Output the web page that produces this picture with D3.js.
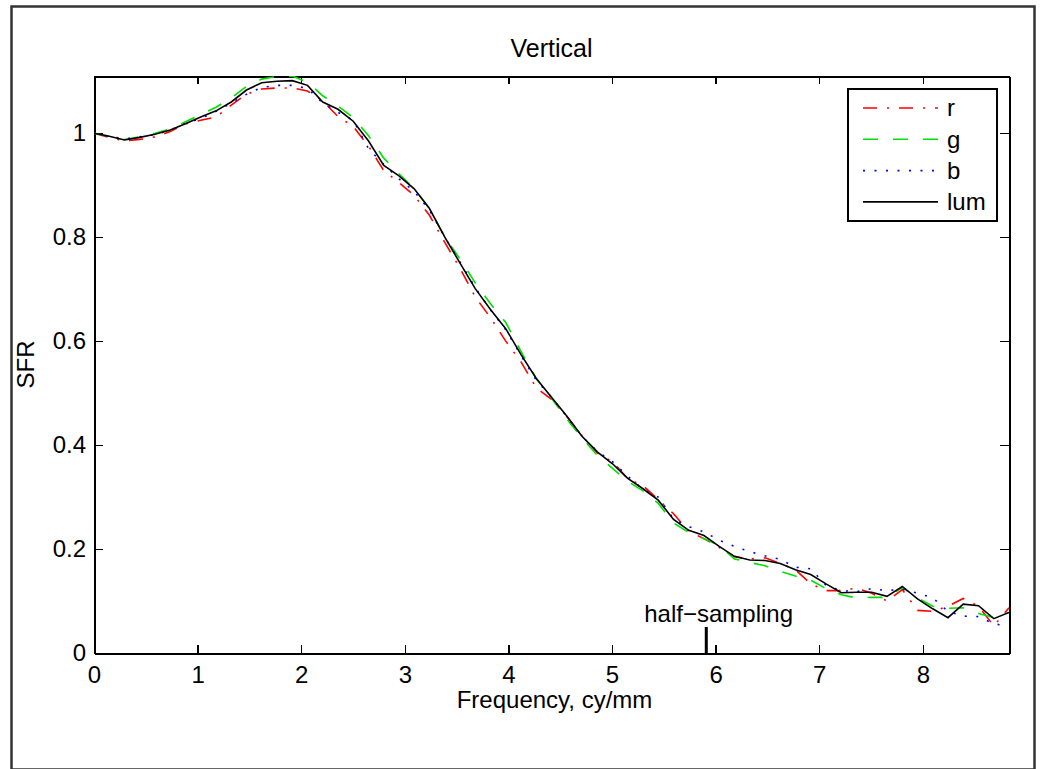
<!DOCTYPE html>
<html>
<head>
<meta charset="utf-8">
<script src="https://cdnjs.cloudflare.com/ajax/libs/d3/7.8.5/d3.min.js"></script>
<style>
body {
  margin: 0;
  background-color: white;
}
svg text {
  font-family: "Liberation Sans", Arial, Helvetica, sans-serif;
  fill: black;
}
.axis path,
.axis line {
  fill: none;
  stroke: black;
  shape-rendering: crispEdges;
}
.axis path {
  stroke-width: 2;
}
.axis line {
  stroke-width: 1.5;
}
.axis text {
  font-size: 24px;
}
</style>
</head>
<body>
<script>
// spatial frequency, cy/mm
const freq = [0, 0.147, 0.294, 0.442, 0.589, 0.736, 0.883, 1.030, 1.178, 1.325,
              1.472, 1.619, 1.766, 1.914, 2.061, 2.208, 2.355, 2.502, 2.650, 2.797,
              2.944, 3.091, 3.238, 3.386, 3.533, 3.680, 3.827, 3.974, 4.122, 4.269,
              4.416, 4.563, 4.710, 4.858, 5.005, 5.152, 5.299, 5.446, 5.594, 5.741,
              5.888, 6.035, 6.182, 6.330, 6.477, 6.624, 6.771, 6.918, 7.066, 7.213,
              7.360, 7.507, 7.654, 7.802, 7.949, 8.096, 8.243, 8.390, 8.538, 8.685,
              8.832];

const sfrR = [1.000, 0.992, 0.985, 0.988, 0.993, 1.003, 1.018, 1.025, 1.031, 1.054,
              1.075, 1.085, 1.087, 1.087, 1.081, 1.062, 1.032, 1.013, 0.975, 0.928,
              0.905, 0.880, 0.842, 0.790, 0.740, 0.685, 0.645, 0.600, 0.560, 0.510,
              0.488, 0.455, 0.418, 0.385, 0.368, 0.335, 0.322, 0.295, 0.268, 0.234,
              0.220, 0.203, 0.185, 0.181, 0.183, 0.172, 0.160, 0.133, 0.120, 0.120,
              0.125, 0.115, 0.100, 0.122, 0.082, 0.080, 0.090, 0.105, 0.090, 0.052,
              0.087];

const sfrG = [1.000, 0.994, 0.988, 0.993, 1.000, 1.008, 1.022, 1.036, 1.050, 1.068,
              1.090, 1.104, 1.109, 1.110, 1.098, 1.072, 1.052, 1.030, 0.995, 0.952,
              0.922, 0.893, 0.855, 0.800, 0.758, 0.712, 0.672, 0.636, 0.580, 0.528,
              0.490, 0.450, 0.414, 0.380, 0.355, 0.330, 0.312, 0.288, 0.250, 0.232,
              0.220, 0.207, 0.181, 0.174, 0.168, 0.157, 0.148, 0.140, 0.124, 0.112,
              0.106, 0.107, 0.107, 0.126, 0.106, 0.090, 0.086, 0.087, 0.076, 0.068,
              0.078];

const sfrB = [1.000, 0.994, 0.989, 0.993, 0.997, 1.006, 1.019, 1.028, 1.042, 1.058,
              1.075, 1.088, 1.092, 1.092, 1.086, 1.058, 1.040, 1.025, 0.970, 0.940,
              0.912, 0.888, 0.852, 0.800, 0.752, 0.703, 0.660, 0.622, 0.572, 0.525,
              0.492, 0.455, 0.417, 0.388, 0.368, 0.340, 0.315, 0.300, 0.258, 0.243,
              0.233, 0.217, 0.205, 0.195, 0.187, 0.180, 0.165, 0.162, 0.130, 0.120,
              0.118, 0.124, 0.120, 0.123, 0.115, 0.106, 0.080, 0.071, 0.070, 0.056,
              0.052];

const sfrLum = [1.000, 0.994, 0.987, 0.992, 0.998, 1.006, 1.018, 1.031, 1.043, 1.060,
                1.083, 1.097, 1.100, 1.101, 1.092, 1.060, 1.046, 1.023, 0.985, 0.938,
                0.918, 0.893, 0.855, 0.800, 0.750, 0.701, 0.661, 0.624, 0.574, 0.528,
                0.492, 0.456, 0.417, 0.387, 0.364, 0.336, 0.316, 0.294, 0.257, 0.236,
                0.226, 0.205, 0.186, 0.179, 0.178, 0.172, 0.160, 0.151, 0.133, 0.116,
                0.117, 0.117, 0.109, 0.128, 0.104, 0.085, 0.068, 0.094, 0.091, 0.066,
                0.078];

const seriesNames = ["r", "g", "b", "lum"];
const seriesColors = ["#ff0000", "#00e000", "#0000ff", "#000000"];
const seriesDash = ["14,10,2,10", "15,15", "2,9.5", null];
const dataset = [sfrR, sfrG, sfrB, sfrLum];

const xTicks = [0, 1, 2, 3, 4, 5, 6, 7, 8];
const yTicks = [0, 0.2, 0.4, 0.6, 0.8, 1];
const halfSampling = 5.91;

const svg = d3.select("body")
            .append("svg")
            .attr("width", 1040)
            .attr("height", 769);

// figure frame
svg.append("rect")
   .attr("x", 11.5)
   .attr("y", 6.5)
   .attr("width", 1023)
   .attr("height", 763)
   .attr("fill", "white")
   .attr("stroke", "#333")
   .attr("stroke-width", 2.5);

const margin = {top: 76, right: 31, bottom: 116, left: 94};
const width = 1040 - margin.left - margin.right;
const height = 769 - margin.top - margin.bottom;

const g = svg.append("g")
             .attr("transform", `translate(${margin.left}, ${margin.top})`);

const xScale = d3.scaleLinear()
                 .domain([0, 8.832])
                 .range([0, width]);

const yScale = d3.scaleLinear()
                 .domain([0, 1.11])
                 .range([height, 0]);

g.append("g")
 .attr("class", "axis")
 .attr("transform", `translate(0, ${height})`)
 .call(d3.axisBottom(xScale).tickValues(xTicks).tickFormat(d3.format("d"))
        .tickSizeInner(-8).tickSizeOuter(0).tickPadding(13));

g.append("g")
 .attr("class", "axis")
 .call(d3.axisTop(xScale).tickValues(xTicks).tickFormat("")
        .tickSizeInner(-8).tickSizeOuter(0));

g.append("g")
 .attr("class", "axis")
 .call(d3.axisLeft(yScale).tickValues(yTicks).tickFormat(d => d === 0 || d === 1 ? d : d.toFixed(1))
        .tickSizeInner(-9).tickSizeOuter(0).tickPadding(8));

g.append("g")
 .attr("class", "axis")
 .attr("transform", `translate(${width}, 0)`)
 .call(d3.axisRight(yScale).tickValues(yTicks).tickFormat("")
        .tickSizeInner(-9).tickSizeOuter(0));

g.append("defs")
 .append("clipPath")
 .attr("id", "plotClip")
 .append("rect")
 .attr("width", width)
 .attr("height", height);

const line = d3.line()
               .x((d, i) => xScale(freq[i]))
               .y(d => yScale(d));

g.selectAll("path.line").data(dataset).enter()
 .append("path")
 .attr("class", "line")
 .attr("fill", "none")
 .attr("stroke", (d, i) => seriesColors[i])
 .attr("stroke-width", 1.6)
 .attr("stroke-dasharray", (d, i) => seriesDash[i])
 .attr("clip-path", "url(#plotClip)")
 .attr("d", line);

// half-sampling marker
g.append("line")
 .attr("x1", xScale(halfSampling))
 .attr("x2", xScale(halfSampling))
 .attr("y1", yScale(0))
 .attr("y2", yScale(0.05))
 .attr("stroke", "black")
 .attr("stroke-width", 3);

g.append("text")
 .attr("x", xScale(halfSampling) - 62)
 .attr("y", yScale(0.06))
 .attr("font-size", 24)
 .text("half\u2212sampling");

// legend
const legend = g.append("g")
                .attr("transform", `translate(${848 - margin.left}, ${89 - margin.top})`);

legend.append("rect")
      .attr("width", 149)
      .attr("height", 132)
      .attr("fill", "white")
      .attr("stroke", "black")
      .attr("stroke-width", 2);

const rows = legend.selectAll("g.row").data(seriesNames).enter()
                   .append("g")
                   .attr("class", "row")
                   .attr("transform", (d, i) => `translate(0, ${19 + i * 31.3})`);

rows.append("line")
    .attr("x1", 15)
    .attr("x2", 90)
    .attr("stroke", (d, i) => seriesColors[i])
    .attr("stroke-width", 1.6)
    .attr("stroke-dasharray", (d, i) => seriesDash[i]);

rows.append("text")
    .attr("x", 99)
    .attr("dy", "0.35em")
    .attr("font-size", 24)
    .text(d => d);

// labels
svg.append("text")
   .attr("text-anchor", "middle")
   .attr("x", margin.left + width / 2)
   .attr("y", 57)
   .attr("font-size", 25)
   .text("Vertical");

svg.append("text")
   .attr("text-anchor", "middle")
   .attr("x", margin.left + width / 2 + 3)
   .attr("y", 708)
   .attr("font-size", 24)
   .text("Frequency, cy/mm");

svg.append("text")
   .attr("text-anchor", "middle")
   .attr("transform", `translate(34, ${margin.top + height / 2}) rotate(-90)`)
   .attr("font-size", 24)
   .text("SFR");
</script>
</body>
</html>
